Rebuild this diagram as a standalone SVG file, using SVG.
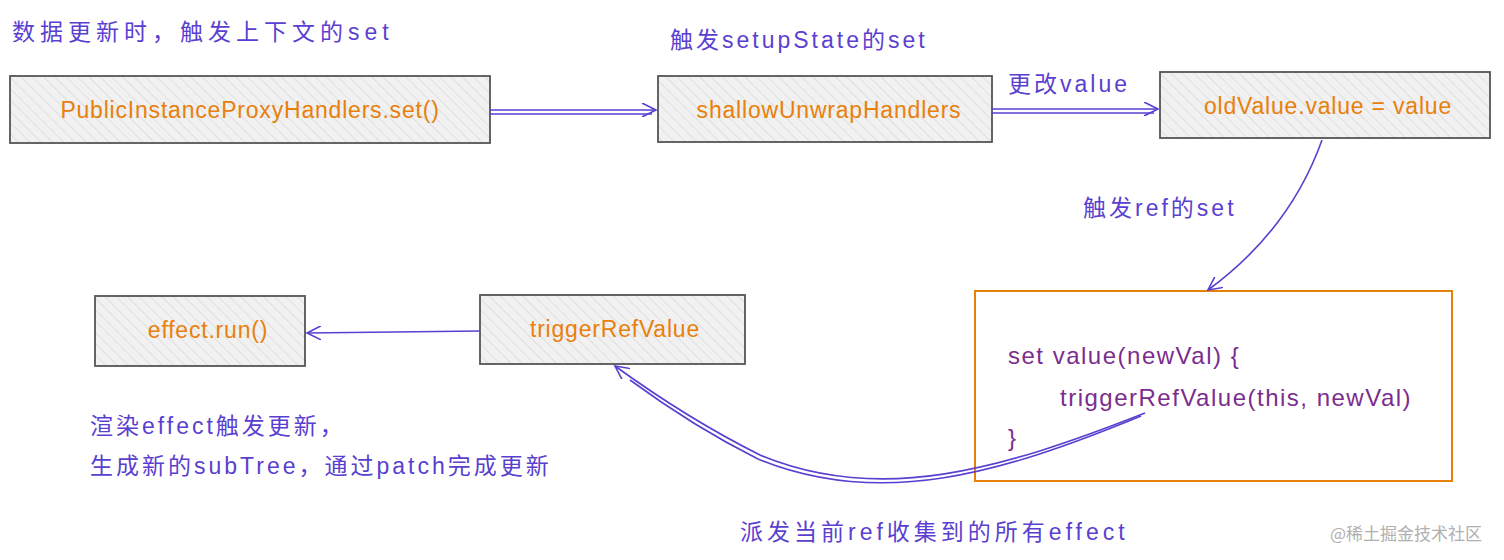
<svg xmlns="http://www.w3.org/2000/svg" width="1504" height="560" viewBox="0 0 1504 560">
<defs>
<pattern id="hatch" width="8" height="8" patternUnits="userSpaceOnUse" patternTransform="rotate(-45)">
<rect width="8" height="8" fill="#f1f1f1"/>
<line x1="0" y1="0" x2="0" y2="8" stroke="#d4d4d4" stroke-width="1.2"/>
</pattern>
<marker id="arr" markerWidth="16" markerHeight="14" refX="14" refY="7" orient="auto" markerUnits="userSpaceOnUse">
<path d="M0,0 L14,7 L0,14" fill="none" stroke="#5a3fd0" stroke-width="1.6"/>
</marker>
</defs>
<style>
.box{fill:url(#hatch);stroke:#555;stroke-width:1.8}
.ot{font-family:"Liberation Sans",sans-serif;font-size:23px;letter-spacing:0.8px;fill:#e8800c}
.lb{font-family:"Liberation Sans","Noto Sans CJK SC",sans-serif;font-size:23px;letter-spacing:4px;fill:#5a3fd0}
.code{font-family:"Liberation Sans",sans-serif;font-size:24px;letter-spacing:1.5px;fill:#7b2d8e}
.c{fill:none;stroke:#5a3fd0;stroke-width:1.6}
</style>
<rect width="1504" height="560" fill="#fff"/>
<text class="lb" x="12" y="40" style="letter-spacing:5px">数据更新时，触发上下文的set</text>
<text class="lb" x="670" y="48" style="letter-spacing:3px">触发setupState的set</text>
<text class="lb" x="1008" y="92" style="letter-spacing:3px">更改value</text>
<text class="lb" x="1083" y="216" style="letter-spacing:3px">触发ref的set</text>
<text class="lb" x="90" y="434" style="letter-spacing:3px">渲染effect触发更新，</text>
<text class="lb" x="90" y="474" style="letter-spacing:3px">生成新的subTree，通过patch完成更新</text>
<text class="lb" x="740" y="540" style="letter-spacing:4px">派发当前ref收集到的所有effect</text>
<text x="1330" y="540" font-family="'Noto Sans CJK SC',sans-serif" font-size="17" fill="#b0b0b0">@稀土掘金技术社区</text>
<g id="n1"><rect class="box" x="10" y="76" width="480" height="67"/><text class="ot" x="250" y="118" text-anchor="middle">PublicInstanceProxyHandlers.set()</text></g>
<g id="n2"><rect class="box" x="658" y="76" width="334" height="66"/><text class="ot" x="829" y="118" text-anchor="middle">shallowUnwrapHandlers</text></g>
<g id="n3"><rect class="box" x="1160" y="72" width="330" height="66"/><text class="ot" x="1328" y="114" text-anchor="middle">oldValue.value = value</text></g>
<g id="n4"><rect class="box" x="95" y="296" width="210" height="70"/><text class="ot" x="208" y="338" text-anchor="middle">effect.run()</text></g>
<g id="n5"><rect class="box" x="480" y="295" width="265" height="69"/><text class="ot" x="615" y="337" text-anchor="middle">triggerRefValue</text></g>
<g id="n6"><rect x="975" y="291" width="477" height="190" fill="none" stroke="#e8800c" stroke-width="2"/>
<text class="code" x="1008" y="364">set value(newVal) {</text>
<text class="code" x="1060" y="406">triggerRefValue(this, newVal)</text>
<text class="code" x="1008" y="446">}</text></g>
<g id="connectors">
<path class="c" d="M490,110 L656,110" marker-end="url(#arr)"/><path class="c" d="M490,114 L652,114"/>
<path class="c" d="M992,109 L1158,109" marker-end="url(#arr)"/><path class="c" d="M992,113 L1154,113"/>
<path class="c" d="M1322,140 Q1290,230 1208,290" marker-end="url(#arr)"/>
<path class="c" d="M480,331 L307,333" marker-end="url(#arr)"/>
<path class="c" d="M1145,413 C1000,470 880,505 760,455 C700,425 655,395 615,366" marker-end="url(#arr)"/>
<path class="c" d="M1141,416 C1000,474 880,509 758,459 C700,430 660,402 630,380"/>
</g>
</svg>
